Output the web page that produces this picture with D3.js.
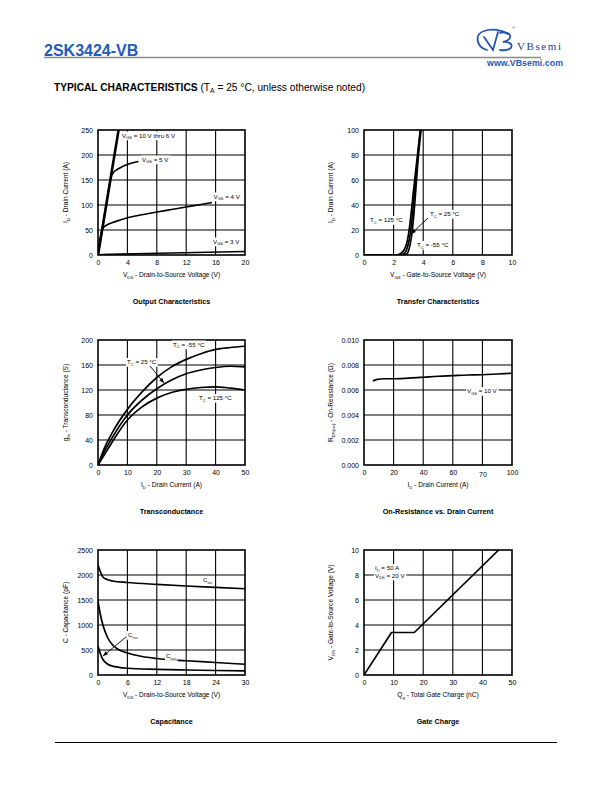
<!DOCTYPE html>
<html><head><meta charset="utf-8">
<script src="https://cdn.jsdelivr.net/npm/d3@7"></script>
<style>
html,body{margin:0;padding:0;background:#fff;}
svg{display:block;font-family:"Liberation Sans",Arial,Helvetica,sans-serif;}
</style></head>
<body><svg id="c" width="612" height="792"></svg>
<script>
// ---------- DATA ----------
// Output characteristics (VDS V, ID A)
const outXTicks = [0,4,8,12,16,20];
const outYTicks = [0,50,100,150,200,250];
const outVgs10to6 = [[0,0],[1.4,125],[2.8,250]];
const outVgs5 = [[0,0],[1.0,89],[1.6,143],[1.8,157],[2.1,165],[2.6,171],[3.2,176],[4,181],[5.5,187]];
const outVgs4 = [[0,0],[0.3,33],[0.5,49],[0.8,56],[1.2,60],[2,65],[3,70],[4,74.5],[6,80.5],[8,86],[10,91],[12,96],[14,101],[15.5,105]];
const outVgs3 = [[0,0],[0.5,1],[2,1.5],[5,2.5],[10,4],[15,5.5],[20,7]];
// Transfer characteristics (VGS V, ID A)
const trXTicks = [0,2,4,6,8,10];
const trYTicks = [0,20,40,60,80,100];
const trT125 = [[0,0],[2.2,0],[2.45,1],[2.7,4],[2.9,10],[3.05,20],[3.2,35],[3.35,52],[3.5,68],[3.65,84],[3.8,100]];
const trT25  = [[0,0],[2.5,0],[2.7,1],[2.9,5],[3.05,12],[3.2,24],[3.35,42],[3.5,62],[3.65,81],[3.82,100]];
const trTm55 = [[0,0],[2.7,0],[2.9,1],[3.05,5],[3.2,14],[3.35,30],[3.5,52],[3.65,76],[3.86,100]];
// Transconductance (ID A, gfs S)
const gfXTicks = [0,10,20,30,40,50];
const gfYTicks = [0,40,80,120,160,200];
const gfTm55 = [[0,0],[2,25],[5,53],[10,89],[15,117],[20,140],[25,157],[30,169],[35,178],[40,185],[45,188],[50,190]];
const gfT25  = [[0,0],[2,20],[5,45],[10,80],[15,104],[20,122],[25,136],[30,146],[35,152],[40,156],[45,158],[50,157]];
const gfT125 = [[0,0],[2,15],[5,38],[10,72],[15,93],[20,107],[25,116],[30,121],[35,124],[40,125],[45,123],[50,120]];
// On-resistance (ID A, RDS(on) ohm)
const ronXTicks = [0,20,40,60,80,100];
const ronXTickLabels = ["0","20","40","60","70","100"];
const ronYTicks = [0,0.002,0.004,0.006,0.008,0.010];
const ronVgs10 = [[6,0.00672],[9,0.00685],[14,0.0069],[20,0.0069],[30,0.00695],[40,0.00702],[50,0.0071],[60,0.00715],[70,0.0072],[80,0.00722],[90,0.00728],[100,0.00734]];
// Capacitance (VDS V, C pF)
const capXTicks = [0,6,12,18,24,30];
const capYTicks = [0,500,1000,1500,2000,2500];
const capCiss = [[0,2200],[0.5,2060],[1,1960],[2,1905],[3,1880],[6,1850],[12,1812],[18,1780],[24,1752],[30,1725]];
const capCoss = [[0,1480],[0.5,1200],[1,1000],[2,740],[3,600],[4,520],[6,440],[9,370],[12,330],[18,285],[24,250],[30,215]];
const capCrss = [[0,580],[0.5,420],[1,310],[2,215],[3,178],[4,158],[6,135],[12,113],[18,100],[24,90],[30,82]];
// Gate charge (Qg nC, VGS V)
const gcXTicks = [0,10,20,30,40,50];
const gcYTicks = [0,2,4,6,8,10];
const gcCurve = [[0,0],[9.3,3.4],[17,3.4],[45.5,10]];

// ---------- DRAW ----------
const svg = d3.select("#c");
const FONT = '"Liberation Sans",Arial,Helvetica,sans-serif';

function rich(sel, parts, size){
  const subSize = size*0.65;
  let shifted = false;
  parts.forEach(p=>{
    const t = sel.append("tspan").text(p[0]);
    if(p[1]){ t.attr("font-size",subSize).attr("dy", shifted?0:size*0.28); shifted=true; }
    else { t.attr("font-size",size); if(shifted){ t.attr("dy",-size*0.28); shifted=false; } }
  });
  return sel;
}
function label(g, x, y, parts, size, bg){
  const t = g.append("text").attr("x",x).attr("y",y).attr("font-size",size).attr("fill","#000");
  rich(t, parts, size);
  if(bg){
    const b = t.node().getBBox();
    g.insert("rect", function(){return t.node();}).attr("x",b.x-1).attr("y",b.y).attr("width",b.width+2).attr("height",b.height).attr("fill","#fff");
  }
  return t;
}
function arrow(g, x1,y1,x2,y2){
  g.append("line").attr("x1",x1).attr("y1",y1).attr("x2",x2).attr("y2",y2).attr("stroke","#000").attr("stroke-width",0.9);
  const a = Math.atan2(y2-y1,x2-x1), L=5, w=2;
  const bx = x2 - L*Math.cos(a), by = y2 - L*Math.sin(a);
  const px = -Math.sin(a)*w, py = Math.cos(a)*w;
  g.append("path").attr("d",`M${x2},${y2}L${bx+px},${by+py}L${bx-px},${by-py}Z`).attr("fill","#000");
}

let clipId = 0;
function chart(cfg){
  const g = svg.append("g");
  const x = d3.scaleLinear().domain(cfg.xd).range([cfg.x0,cfg.x1]);
  const y = d3.scaleLinear().domain(cfg.yd).range([cfg.y1,cfg.y0]);
  cfg.xt.forEach(v=>{ if(v!==cfg.xd[0] && v!==cfg.xd[1]) g.append("line").attr("x1",x(v)).attr("x2",x(v)).attr("y1",cfg.y0).attr("y2",cfg.y1).attr("stroke","#000").attr("stroke-width",1.1); });
  cfg.yt.forEach(v=>{ if(v!==cfg.yd[0] && v!==cfg.yd[1]) g.append("line").attr("y1",y(v)).attr("y2",y(v)).attr("x1",cfg.x0).attr("x2",cfg.x1).attr("stroke","#000").attr("stroke-width",1.1); });
  const xa = d3.axisBottom(x).tickValues(cfg.xt).tickSize(0).tickPadding(0);
  if(cfg.xtl) xa.tickFormat((d,i)=>cfg.xtl[i]);
  const gx = g.append("g").attr("transform",`translate(0,${cfg.y1+5})`).call(xa);
  gx.select(".domain").remove();
  gx.selectAll("text").attr("font-size",7).attr("font-family",FONT).attr("fill","#000").attr("dy","0.71em");
  if(cfg.xtl){ gx.selectAll("text").filter((d,i)=>cfg.xtl[i]==="70").attr("dy","1.0em"); }
  const ya = d3.axisLeft(y).tickValues(cfg.yt).tickSize(0).tickPadding(0).tickFormat(cfg.yf || d3.format("d"));
  const gy = g.append("g").attr("transform",`translate(${cfg.x0-5},0)`).call(ya);
  gy.select(".domain").remove();
  gy.selectAll("text").attr("font-size",7).attr("font-family",FONT).attr("fill","#000");
  const id = "clip"+(clipId++);
  svg.append("clipPath").attr("id",id).append("rect").attr("x",cfg.x0).attr("y",cfg.y0).attr("width",cfg.x1-cfg.x0).attr("height",cfg.y1-cfg.y0);
  const cg = g.append("g").attr("clip-path",`url(#${id})`);
  cfg.series.forEach(s=>{
    const line = d3.line().x(d=>x(d[0])).y(d=>y(d[1])).curve(s.linear?d3.curveLinear:d3.curveMonotoneX);
    cg.append("path").attr("d",line(s.data)).attr("fill","none").attr("stroke","#000").attr("stroke-width",s.w||1.7).attr("stroke-linejoin","round");
  });
  g.append("rect").attr("x",cfg.x0).attr("y",cfg.y0).attr("width",cfg.x1-cfg.x0).attr("height",cfg.y1-cfg.y0).attr("fill","none").attr("stroke","#000").attr("stroke-width",1.6);
  const xt = g.append("text").attr("x",(cfg.x0+cfg.x1)/2).attr("y",cfg.y1+22).attr("text-anchor","middle").attr("font-size",6.6);
  rich(xt,cfg.xlab,6.6);
  const yt = g.append("text").attr("transform",`translate(${cfg.ylx},${(cfg.y0+cfg.y1)/2}) rotate(-90)`).attr("text-anchor","middle").attr("font-size",6.6);
  rich(yt,cfg.ylab,6.6);
  g.append("text").attr("x",(cfg.x0+cfg.x1)/2).attr("y",cfg.y1+49).attr("text-anchor","middle").attr("font-size",7.2).attr("font-weight","bold").text(cfg.title);
  const lg = g.append("g");
  (cfg.labels||[]).forEach(l=>label(lg,l.x,l.y,l.parts,6.2,true));
  return {g:lg,x,y};
}

// Header
svg.append("text").attr("x",44).attr("y",56).attr("font-size",16).attr("font-weight","bold").attr("fill","#1f5cb8").text("2SK3424-VB");
svg.append("line").attr("x1",44).attr("x2",541).attr("y1",57.5).attr("y2",57.5).attr("stroke","#8a8a8a").attr("stroke-width",1.6);
const logo = svg.append("g").attr("fill","none").attr("stroke","#2454b0").attr("stroke-width",1.8).attr("stroke-linecap","round");
logo.append("path").attr("d","M487,50 C476,47 474,34 484,31 C492,28 502,30 508,34");
logo.append("path").attr("d","M484,37 L493,50 L498,32");
logo.append("path").attr("d","M500,33 C512,30 514,40 503,42 C515,41 515,52 500,50");
svg.append("text").attr("x",512).attr("y",29).attr("font-size",4).attr("fill","#2454b0").text("®");
svg.append("text").attr("x",517).attr("y",50).attr("font-size",11).attr("letter-spacing",1.6).attr("font-family",'"Liberation Serif","Times New Roman",serif').attr("fill","#1d3f86").text("VBsemi");
svg.append("text").attr("x",487).attr("y",65.5).attr("font-size",8.8).attr("font-weight","bold").attr("fill","#1f5cb8").attr("textLength",76).text("www.VBsemi.com");
const st = svg.append("text").attr("x",54).attr("y",91).attr("font-size",10.2);
st.append("tspan").attr("font-weight","bold").text("TYPICAL CHARACTERISTICS");
st.append("tspan").text(" (T");
st.append("tspan").attr("font-size",6.8).attr("dy",2).text("A");
st.append("tspan").attr("dy",-2).text(" = 25 °C, unless otherwise noted)");
svg.append("line").attr("x1",55).attr("x2",557).attr("y1",742.5).attr("y2",742.5).attr("stroke","#000").attr("stroke-width",1);

// 1 Output characteristics
chart({x0:98,x1:245,y0:130,y1:255,xd:[0,20],yd:[0,250],xt:outXTicks,yt:outYTicks,ylx:68,
  xlab:[["V"],["DS",1],[" - Drain-to-Source Voltage (V)"]], ylab:[["I"],["D",1],[" - Drain Current (A)"]],
  title:"Output Characteristics",
  series:[{data:outVgs10to6,w:2.6,linear:true},{data:outVgs5},{data:outVgs4},{data:outVgs3}],
  labels:[{x:122,y:137.5,parts:[["V"],["GS",1],[" = 10 V thru 6 V"]]},
          {x:142,y:161.5,parts:[["V"],["GS",1],[" = 5 V"]]},
          {x:213.5,y:198.5,parts:[["V"],["GS",1],[" = 4 V"]]},
          {x:213,y:243.5,parts:[["V"],["GS",1],[" = 3 V"]]}]});

// 2 Transfer characteristics
const c2 = chart({x0:364,x1:512,y0:130,y1:255,xd:[0,10],yd:[0,100],xt:trXTicks,yt:trYTicks,ylx:333,
  xlab:[["V"],["GS",1],[" - Gate-to-Source Voltage (V)"]], ylab:[["I"],["D",1],[" - Drain Current (A)"]],
  title:"Transfer Characteristics",
  series:[{data:trT125},{data:trT25},{data:trTm55}],
  labels:[{x:370,y:222,parts:[["T"],["C",1],[" = 125 °C"]]},
          {x:430,y:216,parts:[["T"],["C",1],[" = 25 °C"]]},
          {x:417,y:247,parts:[["T"],["C",1],[" = -55 °C"]]}]});
arrow(c2.g, 428, 218, 411, 234);

// 3 Transconductance
const c3 = chart({x0:98,x1:245,y0:340,y1:465,xd:[0,50],yd:[0,200],xt:gfXTicks,yt:gfYTicks,ylx:68,
  xlab:[["I"],["D",1],[" - Drain Current (A)"]], ylab:[["g"],["fs",1],[" - Transconductance (S)"]],
  title:"Transconductance",
  series:[{data:gfTm55},{data:gfT25},{data:gfT125}],
  labels:[{x:173,y:346.5,parts:[["T"],["C",1],[" = -55 °C"]]},
          {x:127,y:364,parts:[["T"],["C",1],[" = 25 °C"]]},
          {x:199,y:400,parts:[["T"],["C",1],[" = 125 °C"]]}]});
arrow(c3.g, 150, 366, 164, 383);

// 4 On-resistance
chart({x0:364,x1:512,y0:340,y1:465,xd:[0,100],yd:[0,0.010],xt:ronXTicks,xtl:ronXTickLabels,yt:ronYTicks,yf:d3.format(".3f"),ylx:333,
  xlab:[["I"],["D",1],[" - Drain Current (A)"]], ylab:[["R"],["DS(on)",1],[" - On-Resistance (Ω)"]],
  title:"On-Resistance vs. Drain Current",
  series:[{data:ronVgs10}],
  labels:[{x:467,y:393,parts:[["V"],["GS",1],[" = 10 V"]]}]});

// 5 Capacitance
const c5 = chart({x0:98,x1:245,y0:550,y1:675,xd:[0,30],yd:[0,2500],xt:capXTicks,yt:capYTicks,ylx:68,
  xlab:[["V"],["DS",1],[" - Drain-to-Source Voltage (V)"]], ylab:[["C - Capacitance (pF)"]],
  title:"Capacitance",
  series:[{data:capCiss},{data:capCoss},{data:capCrss}],
  labels:[{x:203,y:582,parts:[["C"],["iss",1]]},
          {x:166,y:658,parts:[["C"],["oss",1]]},
          {x:128,y:637,parts:[["C"],["rss",1]]}]});
arrow(c5.g, 126, 637, 103, 656);

// 6 Gate charge
chart({x0:364,x1:512,y0:550,y1:675,xd:[0,50],yd:[0,10],xt:gcXTicks,yt:gcYTicks,ylx:333,
  xlab:[["Q"],["g",1],[" - Total Gate Charge (nC)"]], ylab:[["V"],["GS",1],[" - Gate-to-Source Voltage (V)"]],
  title:"Gate Charge",
  series:[{data:gcCurve,linear:true}],
  labels:[{x:375,y:570,parts:[["I"],["D",1],[" = 50 A"]]},
          {x:375,y:577.5,parts:[["V"],["DS",1],[" = 20 V"]]}]});
</script></body></html>
